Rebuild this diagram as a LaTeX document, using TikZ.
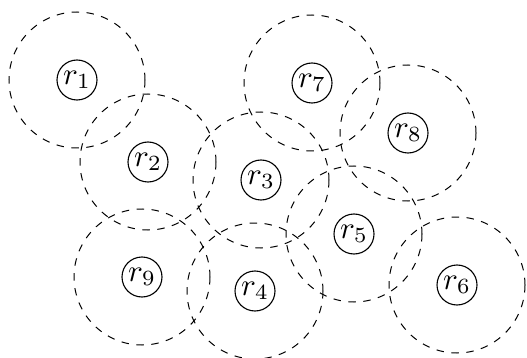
\documentclass[tikz,border=0pt]{standalone}
\usepackage{graphicx}
\newcommand\rlab[1]{\scalebox{3.1}{$r_{#1}$}}
\begin{document}
\begin{tikzpicture}[x=1pt,y=-1pt,
  rnode/.style={draw,circle,line width=1.1pt,minimum size=40pt,inner sep=0pt},
  rangecircle/.style={draw,dash pattern=on 7.5pt off 7.5pt,line width=1pt}]
\useasboundingbox (0,0) rectangle (527,358);
\node[rnode] (r1) at (77,80) {\rlab{1}};
\node[rnode] (r2) at (148,162) {\rlab{2}};
\node[rnode] (r3) at (261,180) {\rlab{3}};
\node[rnode] (r4) at (255,291) {\rlab{4}};
\node[rnode] (r5) at (354,234) {\rlab{5}};
\node[rnode] (r6) at (457,285) {\rlab{6}};
\node[rnode] (r7) at (312,83) {\rlab{7}};
\node[rnode] (r8) at (408,133) {\rlab{8}};
\node[rnode] (r9) at (142,277) {\rlab{9}};
\foreach \n in {r1,r2,r3,r4,r5,r6,r7,r8,r9}
  \draw[rangecircle] (\n.center) circle[radius=68];
\end{tikzpicture}
\end{document}
